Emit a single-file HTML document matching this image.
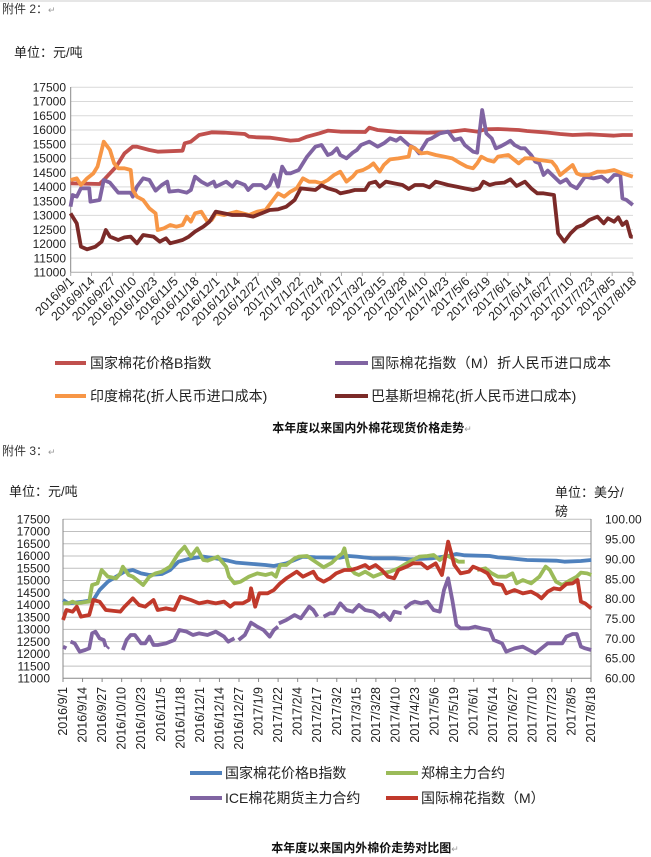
<!DOCTYPE html>
<html><head><meta charset="utf-8">
<style>
body{margin:0;background:#fff;width:651px;height:857px;overflow:hidden;font-family:"Liberation Sans","Noto Sans CJK SC",sans-serif;}
svg{position:absolute;left:0;top:0}
</style></head><body>
<svg width="651" height="857" viewBox="0 0 651 857" font-family="Liberation Sans, Noto Sans CJK SC, sans-serif">
<line x1="0" y1="1" x2="651" y2="1" stroke="#ccc"/>
<text x="2" y="13" font-size="12" fill="#333">附件 2：<tspan fill="#999" font-size="9">↵</tspan></text>
<text x="14" y="57" font-size="13" fill="#222">单位：元/吨</text>
<g stroke="#d9d9d9" stroke-width="1">
<line x1="71" x2="633" y1="87.3" y2="87.3"/><line x1="71" x2="633" y1="101.5" y2="101.5"/><line x1="71" x2="633" y1="115.8" y2="115.8"/><line x1="71" x2="633" y1="130" y2="130"/><line x1="71" x2="633" y1="144.2" y2="144.2"/><line x1="71" x2="633" y1="158.4" y2="158.4"/><line x1="71" x2="633" y1="172.7" y2="172.7"/><line x1="71" x2="633" y1="186.9" y2="186.9"/><line x1="71" x2="633" y1="201.1" y2="201.1"/><line x1="71" x2="633" y1="215.4" y2="215.4"/><line x1="71" x2="633" y1="229.6" y2="229.6"/><line x1="71" x2="633" y1="243.8" y2="243.8"/><line x1="71" x2="633" y1="258.1" y2="258.1"/>
</g>
<line x1="70.7" y1="87" x2="70.7" y2="272.3" stroke="#888"/>
<line x1="70.7" y1="272.3" x2="633" y2="272.3" stroke="#aaa"/>
<g font-size="12" fill="#222" text-anchor="end">
<text x="66" y="91.5">17500</text><text x="66" y="105.7">17000</text><text x="66" y="120">16500</text><text x="66" y="134.2">16000</text><text x="66" y="148.4">15500</text><text x="66" y="162.6">15000</text><text x="66" y="176.9">14500</text><text x="66" y="191.1">14000</text><text x="66" y="205.3">13500</text><text x="66" y="219.6">13000</text><text x="66" y="233.8">12500</text><text x="66" y="248">12000</text><text x="66" y="262.3">11500</text><text x="66" y="276.5">11000</text>
</g>
<g id="tl" font-size="12.5" fill="#222" text-anchor="end"></g>
<g transform="matrix(0.41494,0,0,0.33333,0,0)" fill="none" stroke-width="3.8" stroke-linejoin="round">
<polyline vector-effect="non-scaling-stroke" stroke="#C0504D" points="170,550 240,552 250,540 280,500 300,460 320,440 330,440 360,450 380,455 440,452 445,430 460,425 480,405 510,397 540,398 590,402 600,410 620,412 650,413 680,418 700,422 720,420 740,410 770,400 790,392 820,395 880,396 890,383 910,390 960,396 1030,398 1080,396 1120,390 1150,395 1170,388 1200,387 1250,390 1270,393 1320,398 1350,402 1380,405 1420,403 1450,405 1480,407 1500,405 1525,405"/>
<polyline vector-effect="non-scaling-stroke" stroke="#8064A2" points="170,620 175,585 185,590 195,565 215,565 218,605 240,600 250,540 265,548 285,578 315,578 320,590 330,560 345,535 360,540 375,572 390,555 403,545 408,575 430,572 450,578 460,570 470,530 485,545 500,555 515,545 520,560 545,545 560,560 570,545 590,555 598,570 610,555 630,555 640,565 650,555 660,525 670,560 680,500 690,520 700,520 720,510 740,470 760,440 775,435 790,465 800,460 812,445 820,465 835,475 850,458 860,450 870,435 890,425 910,440 925,430 940,415 955,422 965,413 985,435 1000,445 1010,460 1020,440 1030,420 1040,415 1060,400 1080,395 1095,420 1110,415 1120,435 1140,455 1150,458 1162,330 1172,400 1185,415 1195,445 1205,440 1220,430 1230,422 1240,435 1255,445 1265,445 1280,465 1290,485 1300,490 1310,525 1320,512 1335,530 1350,548 1365,538 1375,555 1390,565 1410,530 1430,535 1450,530 1465,545 1480,525 1495,525 1500,595 1510,600 1525,615"/>
<polyline vector-effect="non-scaling-stroke" stroke="#F79646" points="170,540 185,535 195,555 210,535 225,520 235,500 250,425 265,450 275,490 285,505 300,505 315,510 320,570 330,590 345,600 360,625 375,640 380,690 395,685 410,675 425,680 440,675 450,650 460,665 470,640 485,635 500,665 510,660 520,640 540,645 570,635 600,645 620,635 640,630 655,605 670,580 685,590 700,575 715,565 730,535 745,545 760,545 775,550 790,540 805,525 820,515 835,545 850,530 860,515 875,510 890,500 900,490 915,515 925,495 940,478 960,475 985,470 990,440 1000,445 1015,460 1030,458 1050,465 1070,470 1090,475 1110,490 1125,500 1140,505 1150,490 1160,470 1175,480 1190,485 1200,470 1225,465 1240,480 1250,490 1265,475 1280,475 1300,480 1330,485 1340,500 1350,525 1365,510 1380,495 1390,520 1400,525 1420,525 1440,515 1460,515 1480,510 1500,520 1525,530"/>
<polyline vector-effect="non-scaling-stroke" stroke="#7B2A28" points="170,640 185,670 195,740 210,748 230,740 245,725 255,690 265,710 285,720 300,712 315,710 330,730 345,705 370,710 385,725 400,715 410,730 425,725 440,720 455,710 470,695 490,680 505,665 520,635 540,640 560,645 590,645 610,650 630,640 650,630 670,628 690,620 710,600 725,565 760,570 775,556 790,565 810,572 820,580 840,575 855,570 880,570 890,550 905,545 915,560 930,545 950,550 970,555 985,567 1000,555 1020,555 1035,562 1050,545 1065,550 1080,555 1100,560 1120,565 1140,570 1155,565 1165,545 1180,555 1195,550 1215,548 1230,538 1245,558 1265,545 1280,565 1295,580 1310,580 1335,585 1345,700 1360,725 1375,700 1390,682 1405,675 1420,660 1440,650 1455,670 1465,655 1480,665 1490,652 1500,675 1510,665 1520,710 1525,710"/>
</g>
<g stroke-width="4">
<line x1="55" x2="86" y1="363" y2="363" stroke="#C0504D"/>
<line x1="335" x2="368" y1="363" y2="363" stroke="#8064A2"/>
<line x1="55" x2="86" y1="396" y2="396" stroke="#F79646"/>
<line x1="335" x2="368" y1="396" y2="396" stroke="#7B2A28"/>
</g>
<g font-size="14" fill="#222">
<text x="90" y="368">国家棉花价格B指数</text>
<text x="371" y="368" textLength="240">国际棉花指数（M）折人民币进口成本</text>
<text x="90" y="401">印度棉花(折人民币进口成本)</text>
<text x="371" y="401">巴基斯坦棉花(折人民币进口成本)</text>
</g>
<text x="372" y="432" font-size="12" font-weight="bold" text-anchor="middle" fill="#111">本年度以来国内外棉花现货价格走势<tspan fill="#999" font-weight="normal" font-size="9">↵</tspan></text>

<text x="2" y="455" font-size="12" fill="#333">附件 3：<tspan fill="#999" font-size="9">↵</tspan></text>
<text x="9" y="496" font-size="13" fill="#222">单位：元/吨</text>
<text x="555" y="497" font-size="13" fill="#222">单位：美分/</text>
<text x="555" y="516" font-size="13" fill="#222">磅</text>
<g stroke="#bfbfbf" stroke-width="1">
<line x1="63" x2="591" y1="519.3" y2="519.3"/><line x1="63" x2="591" y1="531.5" y2="531.5"/><line x1="63" x2="591" y1="543.8" y2="543.8"/><line x1="63" x2="591" y1="556" y2="556"/><line x1="63" x2="591" y1="568.2" y2="568.2"/><line x1="63" x2="591" y1="580.5" y2="580.5"/><line x1="63" x2="591" y1="592.7" y2="592.7"/><line x1="63" x2="591" y1="604.9" y2="604.9"/><line x1="63" x2="591" y1="617.2" y2="617.2"/><line x1="63" x2="591" y1="629.4" y2="629.4"/><line x1="63" x2="591" y1="641.6" y2="641.6"/><line x1="63" x2="591" y1="653.8" y2="653.8"/><line x1="63" x2="591" y1="666.1" y2="666.1"/>
</g>
<line x1="63" y1="519" x2="63" y2="678.3" stroke="#888"/>
<line x1="591" y1="519" x2="591" y2="678.3" stroke="#888"/>
<line x1="63" y1="678.3" x2="591" y2="678.3" stroke="#888"/>
<g font-size="12" fill="#222" text-anchor="end">
<text x="50" y="523.5">17500</text><text x="50" y="535.7">17000</text><text x="50" y="548">16500</text><text x="50" y="560.2">16000</text><text x="50" y="572.4">15500</text><text x="50" y="584.7">15000</text><text x="50" y="596.9">14500</text><text x="50" y="609.1">14000</text><text x="50" y="621.4">13500</text><text x="50" y="633.6">13000</text><text x="50" y="645.8">12500</text><text x="50" y="658">12000</text><text x="50" y="670.3">11500</text><text x="50" y="682.5">11000</text>
</g>
<g font-size="12" fill="#222">
<text x="605" y="523.5">100.00</text><text x="605" y="543.5">95.00</text><text x="605" y="563.4">90.00</text><text x="605" y="583.3">85.00</text><text x="605" y="603.2">80.00</text><text x="605" y="623.1">75.00</text><text x="605" y="643">70.00</text><text x="605" y="662.5">65.00</text><text x="605" y="682.5">60.00</text>
</g>
<g id="bl" font-size="12.5" fill="#222" text-anchor="end"></g>
<g transform="matrix(0.41494,0,0,0.33333,0,430)" fill="none" stroke-width="3.8" stroke-linejoin="round">
<polyline vector-effect="non-scaling-stroke" stroke="#4F81BD" points="152,510 165,520 200,515 225,510 240,480 260,455 280,440 300,425 320,420 340,430 360,435 390,432 410,420 430,395 460,385 490,380 520,385 550,392 570,398 610,402 640,405 660,408 690,400 710,390 730,380 760,382 820,383 840,378 860,380 900,385 950,385 990,388 1040,385 1080,378 1100,372 1120,376 1180,378 1200,382 1230,385 1270,390 1340,392 1360,395 1400,393 1425,390"/>
<polyline vector-effect="non-scaling-stroke" stroke="#9BBB59" points="152,520 165,520 175,515 185,520 200,517 215,515 222,465 235,460 245,420 260,440 280,445 290,430 296,410 310,435 320,440 335,455 345,465 360,440 375,430 390,425 410,410 420,390 430,370 445,350 460,380 475,355 490,390 500,392 515,385 525,380 535,395 545,410 552,440 565,460 580,455 600,440 620,430 640,435 655,430 665,440 675,405 690,405 710,385 720,380 740,378 760,395 780,412 800,398 815,380 825,370 830,355 840,410 855,430 865,435 880,425 900,440 920,430 940,425 960,415 980,400 995,390 1010,380 1030,378 1045,375 1060,390 1075,375 1090,385 1105,395 1120,395"/>
<polyline vector-effect="non-scaling-stroke" stroke="#9BBB59" points="1150,420 1170,415 1185,430 1200,440 1220,440 1235,430 1245,460 1260,450 1280,460 1300,440 1315,410 1325,420 1340,455 1355,465 1375,450 1390,440 1400,428 1415,430 1425,435"/>
<polyline vector-effect="non-scaling-stroke" stroke="#C0392B" points="152,570 160,540 175,545 185,530 195,560 215,555 225,510 240,515 255,540 290,545 300,530 320,505 335,525 350,530 370,510 380,540 400,535 420,540 435,500 460,510 480,520 500,515 520,520 540,515 555,530 565,520 585,520 600,510 605,475 615,530 625,490 645,490 660,480 675,460 690,445 715,425 730,440 755,425 765,445 780,455 795,445 810,430 830,420 845,420 860,415 880,405 890,415 905,405 920,420 935,440 950,445 960,420 980,410 995,400 1015,400 1030,415 1050,400 1065,435 1080,335 1095,405 1110,430 1130,425 1140,410 1160,420 1175,430 1190,460 1210,465 1220,490 1240,480 1260,490 1280,485 1295,495 1305,505 1320,485 1335,475 1350,478 1365,462 1380,460 1392,450 1400,515 1410,520 1425,535"/>
<g stroke="#8064A2">
<polyline vector-effect="non-scaling-stroke" points="152,650 160,655"/>
<polyline vector-effect="non-scaling-stroke" points="170,635 180,640 192,665 205,660 215,655 222,610 230,605 240,625 250,630 255,650"/>
<polyline vector-effect="non-scaling-stroke" points="258,655 262,650"/>
<polyline vector-effect="non-scaling-stroke" points="296,660 305,630 315,615 325,615 340,640 350,640 360,620 370,645 380,645 400,640 420,630 432,600 450,605 465,615 480,610 500,615 520,605 540,620 550,635 565,625"/>
<polyline vector-effect="non-scaling-stroke" points="575,630 590,615 605,578 620,590 635,600 650,620 660,600 670,590"/>
<polyline vector-effect="non-scaling-stroke" points="672,580 690,570 710,555 725,565 745,530 755,540 765,560"/>
<polyline vector-effect="non-scaling-stroke" points="780,560 795,550 805,550 820,520 835,540 850,545 865,525 880,540 900,545 915,560 925,550 940,570 950,545 968,550"/>
<polyline vector-effect="non-scaling-stroke" points="975,535 990,520 1000,515 1015,520 1030,515 1045,540 1060,545 1070,480 1080,445 1090,510 1100,585 1110,595 1130,595 1145,590 1160,595 1180,600 1190,630 1210,640 1220,665 1240,655 1260,650 1275,660 1290,670 1305,655 1320,640 1340,640 1355,640 1365,620 1380,612 1390,612 1400,650 1410,655 1425,660"/>
</g>
</g>
<g stroke-width="4">
<line x1="190" x2="222" y1="773" y2="773" stroke="#4F81BD"/>
<line x1="386" x2="418" y1="773" y2="773" stroke="#9BBB59"/>
<line x1="190" x2="222" y1="798" y2="798" stroke="#8064A2"/>
<line x1="386" x2="418" y1="798" y2="798" stroke="#C0392B"/>
</g>
<g font-size="14" fill="#222">
<text x="225" y="778">国家棉花价格B指数</text>
<text x="421" y="778">郑棉主力合约</text>
<text x="225" y="803">ICE棉花期货主力合约</text>
<text x="421" y="803">国际棉花指数（M）</text>
</g>
<text x="365" y="852" font-size="12" font-weight="bold" text-anchor="middle" fill="#111">本年度以来国内外棉价走势对比图<tspan fill="#999" font-weight="normal" font-size="9">↵</tspan></text>
</svg>
<script>
var L=["2016/9/1","2016/9/14","2016/9/27","2016/10/10","2016/10/23","2016/11/5","2016/11/18","2016/12/1","2016/12/14","2016/12/27","2017/1/9","2017/1/22","2017/2/4","2017/2/17","2017/3/2","2017/3/15","2017/3/28","2017/4/10","2017/4/23","2017/5/6","2017/5/19","2017/6/1","2017/6/14","2017/6/27","2017/7/10","2017/7/23","2017/8/5","2017/8/18"];
var ns="http://www.w3.org/2000/svg",tl=document.getElementById("tl"),bl=document.getElementById("bl");
var svg=document.querySelector("svg");
for(var i=0;i<28;i++){
 var x=70.7+i*(562.3/27);
 var t=document.createElementNS(ns,"text");t.setAttribute("x",x+4);t.setAttribute("y",282);
 t.setAttribute("transform","rotate(-45 "+(x+4)+" 282)");t.textContent=L[i];tl.appendChild(t);
 var k=document.createElementNS(ns,"line");k.setAttribute("x1",x);k.setAttribute("x2",x);k.setAttribute("y1",272);k.setAttribute("y2",276);k.setAttribute("stroke","#aaa");svg.appendChild(k);
 var x2=63+i*(528/27);
 var b=document.createElementNS(ns,"text");b.setAttribute("x",x2+4);b.setAttribute("y",687);
 b.setAttribute("transform","rotate(-90 "+(x2+4)+" 687)");b.textContent=L[i];bl.appendChild(b);
 var k2=document.createElementNS(ns,"line");k2.setAttribute("x1",x2);k2.setAttribute("x2",x2);k2.setAttribute("y1",678);k2.setAttribute("y2",682);k2.setAttribute("stroke","#888");svg.appendChild(k2);
}
</script>
</body></html>
